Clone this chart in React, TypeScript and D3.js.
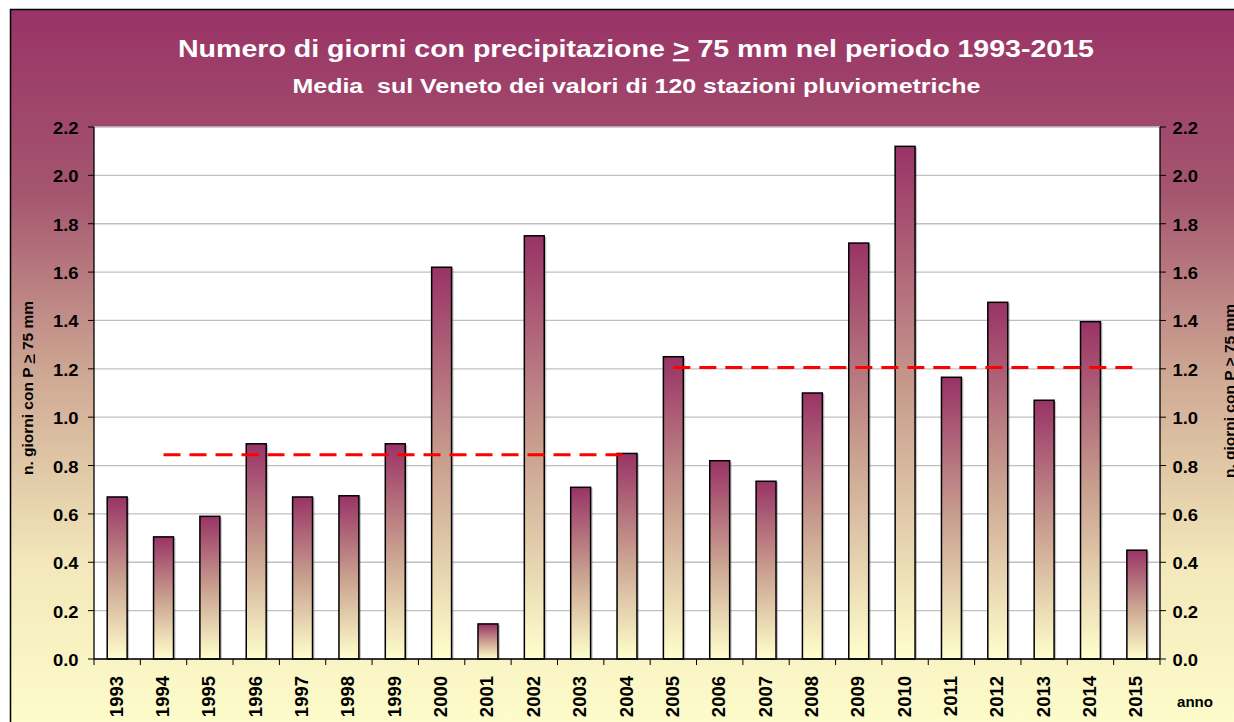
import React from "react";
import * as d3 from "d3";

const years = ["1993","1994","1995","1996","1997","1998","1999","2000","2001","2002","2003","2004","2005","2006","2007","2008","2009","2010","2011","2012","2013","2014","2015"];
const values = [0.67,0.505,0.59,0.89,0.67,0.675,0.89,1.62,0.145,1.75,0.71,0.85,1.25,0.82,0.735,1.10,1.72,2.12,1.165,1.475,1.07,1.395,0.45];
const yTicks = [0,0.2,0.4,0.6,0.8,1.0,1.2,1.4,1.6,1.8,2.0,2.2];
const means = [
  { from: "1994", to: "2004", value: 0.845 },
  { from: "2005", to: "2015", value: 1.205 },
];

const W = 1234, H = 722;
const plot = { left: 94, right: 1160, top: 127, bottom: 659 };

export default function App() {
  const x = d3.scaleBand().domain(years).range([plot.left, plot.right]).paddingInner(0.57).paddingOuter(0.285);
  const xb = d3.scaleBand().domain(years).range([plot.left, plot.right]);
  const y = d3.scaleLinear().domain([0, 2.2]).range([plot.bottom, plot.top]);
  const font = "'Liberation Sans', Arial, sans-serif";
  const yLabel = (
    <>n. giorni con P <tspan textDecoration="underline">&gt;</tspan> 75 mm</>
  );
  return (
    <svg width={W} height={H} style={{ position: "absolute", left: 0, top: 0 }} fontFamily={font}>
      <defs>
        <linearGradient id="bg" x1="0" y1="0" x2="0" y2="1">
          <stop offset="0" stopColor="#993366" />
          <stop offset="0.25" stopColor="#a5566f" />
          <stop offset="0.5" stopColor="#cfaa94" />
          <stop offset="0.75" stopColor="#f3e8bb" />
          <stop offset="1" stopColor="#ffffcc" />
        </linearGradient>
        <linearGradient id="bar" x1="0" y1="0" x2="0" y2="1">
          <stop offset="0" stopColor="#993366" />
          <stop offset="0.5" stopColor="#c9a08f" />
          <stop offset="1" stopColor="#ffffcc" />
        </linearGradient>
      </defs>
      <rect x={0} y={0} width={W} height={H} fill="#ffffff" />
      <rect x={10.5} y={9.5} width={1240} height={740} fill="url(#bg)" stroke="#000" strokeWidth={1.5} />
      <text x={636} y={57} textAnchor="middle" fill="#fff" fontWeight="bold" fontSize={23.5} textLength={916} lengthAdjust="spacingAndGlyphs">
        Numero di giorni con precipitazione <tspan textDecoration="underline">&gt;</tspan> 75 mm nel periodo 1993-2015
      </text>
      <text x={636.5} y={93} textAnchor="middle" fill="#fff" fontWeight="bold" fontSize={19.5} textLength={688} lengthAdjust="spacingAndGlyphs">
        Media{"\u00a0\u00a0"}sul Veneto dei valori di 120 stazioni pluviometriche
      </text>
      <rect x={plot.left} y={plot.top} width={plot.right - plot.left} height={plot.bottom - plot.top} fill="#fff" />
      {yTicks.map(t => (
        <line key={"g" + t} x1={plot.left} x2={plot.right} y1={y(t)} y2={y(t)} stroke="#c0c0c0" strokeWidth={1.3} />
      ))}
      {years.map((yr, i) => (
        <g key={yr}>
          <rect x={(x(yr) as number) + 2} y={y(values[i]) + 1} width={x.bandwidth()} height={plot.bottom - y(values[i]) - 1} fill="#555" opacity={0.35} />
          <rect x={x(yr)} y={y(values[i])} width={x.bandwidth()} height={plot.bottom - y(values[i])} fill="url(#bar)" stroke="#000" strokeWidth={1.5} />
        </g>
      ))}
      {means.map((m, i) => (
        <line key={"m" + i} x1={(xb(m.from) as number) + xb.bandwidth() / 2} x2={(xb(m.to) as number) + xb.bandwidth() / 2}
          y1={y(m.value)} y2={y(m.value)} stroke="#ff0000" strokeWidth={3} strokeDasharray="17 9" />
      ))}
      <line x1={plot.left} x2={plot.left} y1={plot.top} y2={plot.bottom} stroke="#000" strokeWidth={1.3} />
      <line x1={plot.right} x2={plot.right} y1={plot.top} y2={plot.bottom} stroke="#000" strokeWidth={1.3} />
      <line x1={plot.left} x2={plot.right} y1={plot.bottom} y2={plot.bottom} stroke="#000" strokeWidth={1.3} />
      {yTicks.map(t => (
        <g key={"t" + t}>
          <line x1={plot.left - 6} x2={plot.left} y1={y(t)} y2={y(t)} stroke="#000" />
          <line x1={plot.right} x2={plot.right + 6} y1={y(t)} y2={y(t)} stroke="#000" />
          <text x={78.5} y={y(t) + 7} textAnchor="end" fontWeight="bold" fontSize={17} textLength={25.6} lengthAdjust="spacingAndGlyphs">{t.toFixed(1)}</text>
          <text x={1172.5} y={y(t) + 7} textAnchor="start" fontWeight="bold" fontSize={17} textLength={25.6} lengthAdjust="spacingAndGlyphs">{t.toFixed(1)}</text>
        </g>
      ))}
      {years.map(yr => (
        <line key={"xt" + yr} x1={xb(yr)} x2={xb(yr)} y1={plot.bottom} y2={plot.bottom + 6} stroke="#000" />
      ))}
      <line x1={plot.right} x2={plot.right} y1={plot.bottom} y2={plot.bottom + 6} stroke="#000" />
      {years.map(yr => {
        const cx = (xb(yr) as number) + xb.bandwidth() / 2;
        return (
          <text key={"xl" + yr} transform={`translate(${cx + 5.5},676) rotate(-90)`} textAnchor="end" fontWeight="bold" fontSize={18.5}>{yr}</text>
        );
      })}
      <text x={1177} y={707} fontWeight="bold" fontSize={14} textLength={36} lengthAdjust="spacingAndGlyphs">anno</text>
      <text transform="translate(32.5,388) rotate(-90)" textAnchor="middle" fontWeight="bold" fontSize={15.5}>
        {yLabel}
      </text>
      <text transform="translate(1234.5,391) rotate(-90)" textAnchor="middle" fontWeight="bold" fontSize={15.5}>
        {yLabel}
      </text>
    </svg>
  );
}
